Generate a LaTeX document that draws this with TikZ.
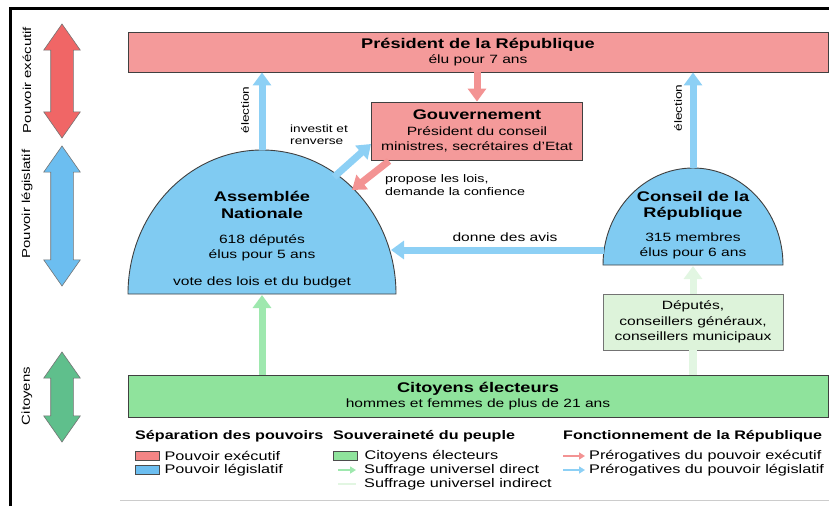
\documentclass[tikz,border=0pt]{standalone}
\usepackage{fontspec}
\setmainfont{Liberation Sans}[FakeStretch=1.3]
\usepackage{xcolor}
\usetikzlibrary{shapes.arrows, positioning, arrows.meta}
\definecolor{execfill}{HTML}{F49A9A}
\definecolor{legisfill}{HTML}{80CBF2}
\definecolor{citfill}{HTML}{8FE39C}
\definecolor{depfill}{HTML}{DDF3DA}
\definecolor{arrowred}{HTML}{F39393}
\definecolor{arrowblue}{HTML}{8DD0F5}
\definecolor{arrowgreen}{HTML}{9EE8AE}
\definecolor{arrowpale}{HTML}{E2F6E2}
\definecolor{sidered}{HTML}{F06666}
\definecolor{sideblue}{HTML}{6CBEF0}
\definecolor{sidegreen}{HTML}{5FBF8C}
\newcommand\boxtitle{\fontsize{14}{16.5}\selectfont\bfseries}
\newcommand\boxtext{\fontsize{12}{15.5}\selectfont}
\tikzstyle{exec} = [rectangle, draw=black!75, fill=execfill, line width=0.9pt, align=center, inner sep=0pt, font=\boxtext]
\tikzstyle{citizens} = [rectangle, draw=black!75, fill=citfill, line width=0.9pt, align=center, inner sep=0pt, font=\boxtext]
\tikzstyle{electors} = [rectangle, draw=black!55, fill=depfill, line width=0.8pt, align=center, inner sep=0pt, font=\boxtext]
\tikzstyle{dome} = [draw=black!75, fill=legisfill, line width=0.9pt]
\tikzstyle{power} = [double arrow, draw=black!55, line width=0.6pt, inner xsep=0pt, inner ysep=11pt, double arrow head extend=7pt, double arrow tip angle=70, rotate=90]
\tikzstyle{side} = [rotate=90, font=\fontsize{11.5}{13}\selectfont]
\tikzstyle{prerog} = [line width=7pt, -{Triangle[width=18pt, length=13pt]}]
\tikzstyle{note} = [align=left, font=\fontsize{10.5}{12}\selectfont, inner sep=0pt]
\tikzstyle{keybox} = [rectangle, draw=black!70, line width=0.8pt, minimum width=24pt, minimum height=9pt, inner sep=0pt]
\tikzstyle{keyarrow} = [line width=2.5pt, -{Triangle[width=7pt, length=6pt]}]
\tikzstyle{legend} = [font=\fontsize{12.5}{14}\selectfont, inner sep=0pt, anchor=west]
\tikzstyle{legendhead} = [font=\fontsize{12.4}{14}\selectfont\bfseries, inner sep=0pt, anchor=west]

\begin{document}
\begin{tikzpicture}[x=1pt, y=-1pt]
	\useasboundingbox (0,0) rectangle (829,506);
	\draw[line width=3pt] (10,506) -- (10,8) -- (829,8);
	\draw[black!20, line width=1pt] (120,500) -- (829,500);

	% side scale
	\node (Executive)[power, fill=sidered, minimum height=114pt] at (62,81) {};
	\node (Legislative)[power, fill=sideblue, minimum height=140pt] at (62,216) {};
	\node (Citizens)[power, fill=sidegreen, minimum height=90pt] at (62,397) {};
	\node[side] at (27,80) {Pouvoir exécutif};
	\node[side] at (27,204) {Pouvoir législatif};
	\node[side] at (27,396) {Citoyens};

	% boxes
	\node (President)[exec, minimum width=700pt, minimum height=40pt] at (478,52) {{\boxtitle Président de la République}\\élu pour 7 ans};
	\node (Gouvernement)[exec, minimum width=211pt, minimum height=58pt] at (477,131) {{\boxtitle Gouvernement}\\Président du conseil\\ministres, secrétaires d'Etat};
	\node (Citoyens)[citizens, minimum width=700pt, minimum height=42pt] at (478,396) {{\boxtitle Citoyens électeurs}\\hommes et femmes de plus de 21 ans};
	\node (Deputes)[electors, minimum width=180pt, minimum height=56pt] at (693,322) {Députés,\\conseillers généraux,\\conseillers municipaux};

	% domes
	\draw[dome] (128,294) arc[start angle=180, end angle=360, x radius=134, y radius=144] -- cycle;
	\draw[dome] (603,265) arc[start angle=180, end angle=360, x radius=90, y radius=97] -- cycle;
	\node (Assemblee)[align=center, font=\boxtitle] at (262,205) {Assemblée\\Nationale};
	\node (Assemblee info)[align=center, font=\boxtext] at (262,248) {618 députés\\élus pour 5 ans};
	\node (Assemblee vote)[font=\fontsize{12}{13}\selectfont] at (262,282) {vote des lois et du budget};
	\node (Conseil)[align=center, font=\boxtitle] at (693,206) {Conseil de la\\République};
	\node (Conseil info)[align=center, font=\boxtext] at (693,246) {315 membres\\élus pour 6 ans};
	\coordinate (Assemblee top) at (262,150);
	\coordinate (Assemblee base) at (262,295);
	\coordinate (Assemblee side) at (391,250);
	\coordinate (Assemblee hit) at (352,190);
	\coordinate (Assemblee shoulder) at (334,177);
	\coordinate (Gouvernement corner) at (371,144);
	\coordinate (Gouvernement foot) at (389,161);
	\coordinate (Conseil top) at (693,168);
	\coordinate (Conseil side) at (604,250);
	\coordinate (Conseil base) at (693,266);

	% suffrage
	\draw[line width=8pt, arrowpale] (Citoyens.north -| Deputes.south) -- (Deputes.south);
	\draw[prerog, arrowpale] (Deputes.north) -- (Conseil base);
	\draw[prerog, arrowgreen] (Citoyens.north -| Assemblee base) -- (Assemblee base);

	% prerogatives
	\draw[prerog, arrowblue] (Assemblee top) -- (Assemblee top |- President.south);
	\draw[prerog, arrowblue] (Conseil top) -- (Conseil top |- President.south);
	\draw[prerog, arrowred] (President.south -| Gouvernement.north) -- (Gouvernement.north);
	\draw[prerog, arrowblue] (Assemblee shoulder) -- (Gouvernement corner);
	\draw[prerog, arrowred] (Gouvernement foot) -- (Assemblee hit);
	\draw[prerog, arrowblue] (Conseil side) -- (Assemblee side);
	\node[note, rotate=90] at (245,110) {élection};
	\node[note, rotate=90] at (678,108) {élection};
	\node[note, anchor=west] at (290,135) {investit et\\renverse};
	\node[note, anchor=west, font=\fontsize{11}{12.5}\selectfont] at (385,185) {propose les lois,\\demande la confience};
	\node[note, font=\boxtext] at (505,237) {donne des avis};

	% legend
	\node (Separation)[legendhead] at (135,436) {Séparation des pouvoirs};
	\node (Souverainete)[legendhead] at (333,436) {Souveraineté du peuple};
	\node (Fonctionnement)[legendhead] at (563,436) {Fonctionnement de la République};
	\node (exec key)[keybox, fill=sidered!80] at (147,456) {};
	\node (legis key)[keybox, fill=sideblue] at (147,470) {};
	\node (cit key)[keybox, fill=citfill] at (345,456) {};
	\node[legend, right=5pt of exec key] {Pouvoir exécutif};
	\node[legend, right=5pt of legis key] {Pouvoir législatif};
	\node[legend, right=7pt of cit key] {Citoyens électeurs};
	\coordinate (direct key) at (338,470);
	\coordinate (indirect key) at (338,484);
	\coordinate (red key) at (563,456);
	\coordinate (blue key) at (563,470);
	\draw[keyarrow, arrowgreen] (direct key) -- ++(18,0) coordinate (direct key end);
	\draw[line width=2.5pt, arrowpale] (indirect key) -- ++(18,0) coordinate (indirect key end);
	\draw[keyarrow, arrowred] (red key) -- ++(22,0) coordinate (red key end);
	\draw[keyarrow, arrowblue] (blue key) -- ++(22,0) coordinate (blue key end);
	\node[legend, right=8pt of direct key end] {Suffrage universel direct};
	\node[legend, right=8pt of indirect key end] {Suffrage universel indirect};
	\node[legend, right=4pt of red key end] {Prérogatives du pouvoir exécutif};
	\node[legend, right=4pt of blue key end] {Prérogatives du pouvoir législatif};
\end{tikzpicture}
\end{document}
